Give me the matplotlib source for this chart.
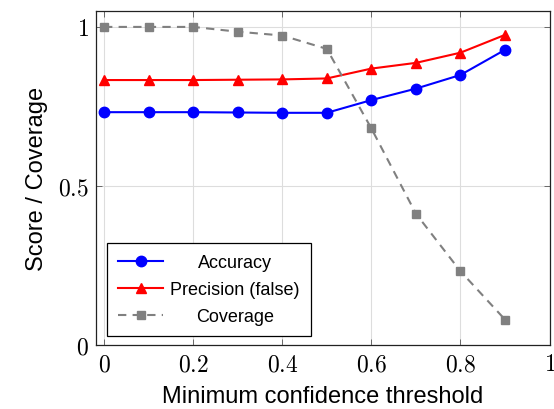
import matplotlib
matplotlib.use('Agg')
import matplotlib.pyplot as plt

# values
thresholds = [0.0, 0.1, 0.2, 0.3, 0.4, 0.5, 0.6, 0.7, 0.8, 0.9]
accuracy = [0.732, 0.732, 0.732, 0.731, 0.730, 0.730, 0.770, 0.806, 0.849, 0.928]
precision = [0.833, 0.833, 0.833, 0.834, 0.835, 0.838, 0.869, 0.887, 0.919, 0.975]
coverage = [1.0, 1.0, 1.0, 0.985, 0.973, 0.931, 0.681, 0.413, 0.232, 0.080]

xticks = [0, 0.2, 0.4, 0.6, 0.8, 1]
xtick_labels = ['0', '0.2', '0.4', '0.6', '0.8', '1']
yticks = [0, 0.5, 1]
ytick_labels = ['0', '0.5', '1']

plt.rcParams['mathtext.fontset'] = 'cm'
plt.rcParams['font.family'] = ['Liberation Sans', 'DejaVu Sans']

fig = plt.figure(figsize=(5.54, 4.10), dpi=100)
ax = fig.add_axes([0.1733, 0.156, 0.8187, 0.8147])

ax.plot(thresholds, accuracy, color='#0000ff', marker='o', markersize=7.5, linewidth=1.5, label='Accuracy')
ax.plot(thresholds, precision, color='#ff0000', marker='^', markersize=7.5, linewidth=1.5, label='Precision (false)')
ax.plot(thresholds, coverage, color='#808080', marker='s', markersize=6, linewidth=1.5, linestyle=(0, (4, 3)), label='Coverage')

ax.set_xlim(-0.018, 1.0)
ax.set_ylim(0, 1.05)
ax.set_xticks(xticks)
ax.set_xticklabels(['$' + s + '$' for s in xtick_labels])
ax.set_yticks(yticks)
ax.set_yticklabels(['$' + s + '$' for s in ytick_labels])
ax.tick_params(axis='x', pad=6)
ax.tick_params(direction='in', top=True, right=True, length=4, width=0.6, color='#555555', labelsize=17)
ax.tick_params(axis='y', pad=5)
ax.grid(True, color='#dddddd', linewidth=0.8)
ax.set_axisbelow(True)
for sp in ax.spines.values():
    sp.set_linewidth(0.9)
    sp.set_color('#222222')

ax.set_xlabel('Minimum confidence threshold', fontsize=17, labelpad=7)
ax.set_ylabel('Score / Coverage', fontsize=17, labelpad=7)

leg = ax.legend(loc='lower left', bbox_to_anchor=(0.0046, 0.0), fontsize=13, handlelength=2.5,
                handletextpad=0.4, frameon=True, fancybox=False, edgecolor='black', framealpha=1,
                borderpad=0.6, labelspacing=0.55)
leg.get_frame().set_linewidth(0.9)

# center the legend texts like pgfplots does
fig.canvas.draw()
r = fig.canvas.get_renderer()
texts = leg.get_texts()
widths = [t.get_window_extent(r).width for t in texts]
wmax = max(widths)
for t, w in zip(texts, widths):
    t.set_position(((wmax - w) / 2, 0))

fig.savefig('out.png', dpi=100)
